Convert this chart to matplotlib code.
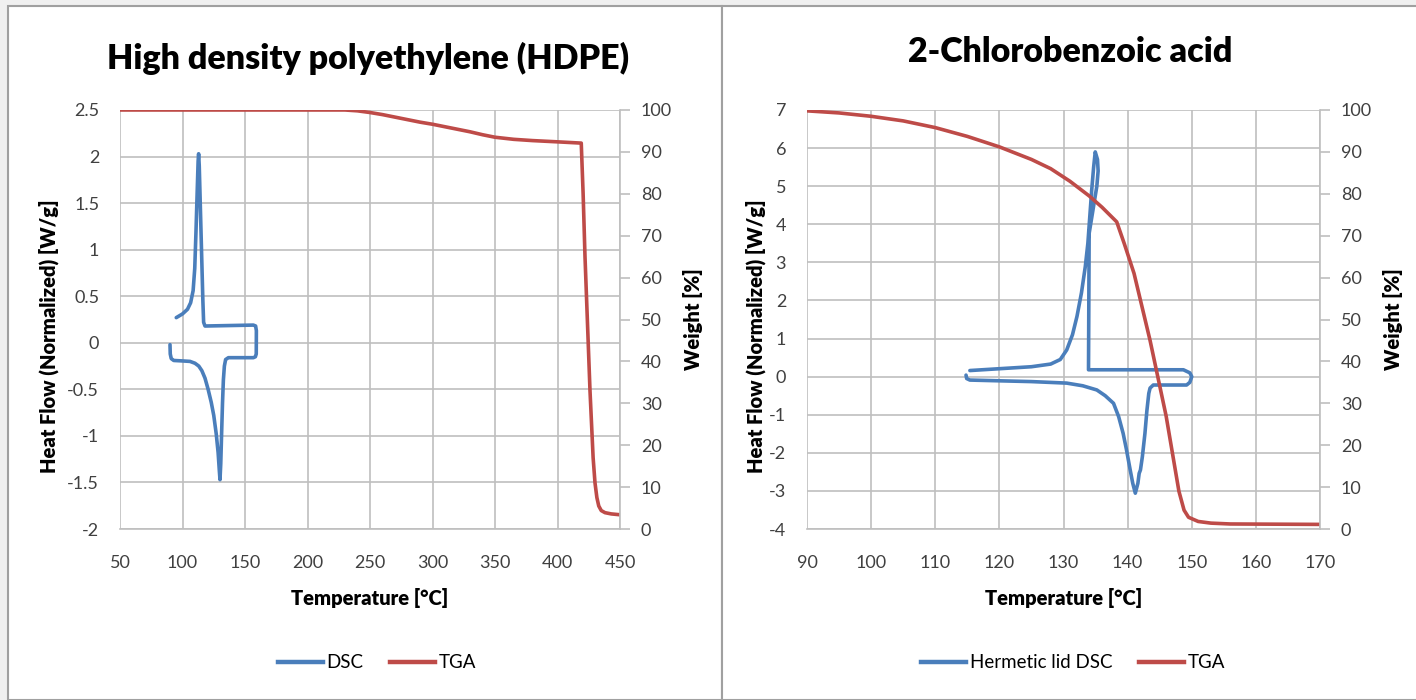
"""Side by side DSC / TGA charts for HDPE and 2-chlorobenzoic acid."""

import matplotlib.pyplot as plt
from matplotlib.lines import Line2D
from matplotlib.patches import Rectangle

plt.rcParams["font.family"] = ["Lato", "DejaVu Sans"]

W, H = 1416, 700

# HDPE, heat then cool loop
hdpe_dsc_t = [90, 90.2, 91, 93, 100, 106, 110, 113, 115.5, 118, 120.5, 123, 125, 127,
              128.5, 129.5, 130, 130.6, 131.3, 132, 132.7, 133.5, 134.5, 136.7, 156.7,
              158.3, 159, 159.1, 158.5, 156.7, 118, 116.9, 116.3, 115.6, 114.8, 114,
              113.4, 112.9, 112.5, 111.7, 110.8, 109.8, 108.5, 106.5, 104, 100, 95]
hdpe_dsc_w = [-0.02, -0.12, -0.17, -0.19, -0.195, -0.2, -0.22, -0.25, -0.3, -0.38,
              -0.5, -0.64, -0.78, -0.98, -1.18, -1.38, -1.47, -1.3, -0.97, -0.65, -0.4,
              -0.25, -0.18, -0.16, -0.16, -0.15, -0.12, 0.13, 0.18, 0.19, 0.18, 0.22,
              0.45, 0.8, 1.2, 1.6, 1.9, 2.03, 1.95, 1.6, 1.2, 0.8, 0.56, 0.43, 0.36,
              0.31, 0.27]
hdpe_tga_t = [50, 150, 230, 240, 250, 260, 270, 280, 290, 300, 310, 320, 330, 340, 350,
              365, 380, 400, 419, 420.5, 422, 426, 428.5, 430, 431.5, 433, 435, 438,
              443, 450]
hdpe_tga_w = [100, 100, 100, 99.8, 99.4, 98.9, 98.3, 97.7, 97.1, 96.6, 96.0, 95.4, 94.8,
              94.1, 93.5, 93.0, 92.7, 92.4, 92.1, 80, 65, 33, 17, 11, 7.5, 5.5, 4.4,
              3.9, 3.6, 3.4]

# 2-chlorobenzoic acid, hermetic lid
cba_dsc_t = [115.4, 125, 128, 129.5, 130.5, 131.4, 132.1, 132.8, 133.4, 133.8, 134.1,
             134.4, 134.7, 134.95, 135.3, 135.4, 135.2, 134.0, 133.9, 148.7, 149.7, 150,
             149.7, 149.2, 144, 143.5, 143.3, 143.0, 142.7, 142.3, 142, 141.8, 141.6,
             141.2, 140.8, 140.4, 139.8, 139.3, 138.6, 137.8, 136.5, 135.2, 133, 130.5,
             125, 120.1, 115.4, 114.9, 114.8]
cba_dsc_w = [0.16, 0.26, 0.33, 0.45, 0.7, 1.1, 1.58, 2.2, 2.89, 3.5, 4.2, 4.9, 5.5, 5.9,
             5.7, 5.4, 5.0, 3.76, 0.18, 0.18, 0.1, 0.0, -0.15, -0.22, -0.22, -0.3, -0.44,
             -0.9, -1.49, -2.1, -2.45, -2.54, -2.8, -3.06, -2.8, -2.45, -1.9, -1.49,
             -1.05, -0.7, -0.5, -0.35, -0.24, -0.17, -0.13, -0.11, -0.09, -0.05, 0.04]
cba_tga_t = [90, 95, 100, 105, 110, 115, 120, 125, 128, 131, 134, 136, 138.3, 139.5,
             141, 143.5, 146, 148, 148.8, 149.5, 151, 153, 156, 170]
cba_tga_w = [99.8, 99.3, 98.5, 97.4, 95.8, 93.7, 91.2, 88.2, 86.0, 83.0, 79.5, 76.8,
             73.3, 68, 61, 45, 27, 9, 4.5, 2.8, 1.8, 1.4, 1.2, 1.1]

BLUE = "#4A7EBB"
RED = "#BE4B48"
GRID = "#BFBFBF"
TICK = "#404040"
LABEL_SIZE = 14.5


def px_axes(fig, x0, x1, y0, y1):
    """Axes from pixel box (top-left origin)."""
    return fig.add_axes([x0 / W, 1 - y1 / H, (x1 - x0) / W, (y1 - y0) / H])


def style_axes(ax, ax2, xticks, yticks, wticks):
    ax.set_xlim(xticks[0], xticks[-1])
    ax.set_ylim(yticks[0], yticks[-1])
    ax.set_xticks(xticks)
    ax.set_yticks(yticks)
    ax.set_xticklabels([f"{v:g}" for v in xticks])
    ax.set_yticklabels([f"{v:g}" for v in yticks])
    ax2.set_ylim(0, 100)
    ax2.set_yticks(wticks)
    ax.grid(True, color=GRID, lw=1.2)
    ax.set_axisbelow(True)
    ax.tick_params(axis="both", length=0, labelsize=13, labelcolor=TICK)
    ax.tick_params(axis="y", pad=15)
    ax.tick_params(axis="x", pad=19)
    ax2.tick_params(axis="y", length=7, width=1.2, color=GRID, labelsize=13,
                    labelcolor=TICK, pad=8)
    for a in (ax, ax2):
        for s in a.spines.values():
            s.set_visible(False)
    ax2.spines["right"].set_visible(True)
    ax2.spines["right"].set_color(GRID)
    ax2.spines["right"].set_linewidth(1.2)
    ax.spines["bottom"].set_visible(True)
    ax.spines["bottom"].set_color(GRID)
    ax.spines["bottom"].set_linewidth(1.2)


def labels(ax, ax2, left_px, x0, width):
    ax.set_xlabel("Temperature [°C]", fontsize=LABEL_SIZE, fontweight="heavy",
                  labelpad=12)
    ax.set_ylabel("Heat Flow (Normalized) [W/g]", fontsize=LABEL_SIZE,
                  fontweight="heavy")
    ax.yaxis.set_label_coords((left_px - x0) / width, 0.46)
    ax2.set_ylabel("Weight [%]", fontsize=LABEL_SIZE, fontweight="heavy", labelpad=8)


def legend(fig, names, cx):
    fig.legend(handles=[Line2D([], [], color=BLUE, lw=3.2),
                        Line2D([], [], color=RED, lw=3.2)],
               labels=names, loc="center", bbox_to_anchor=(cx / W, 1 - 663 / H),
               ncol=2, frameon=False, fontsize=13.5, handlelength=2.4,
               handletextpad=0.2, columnspacing=1.4)


fig = plt.figure(figsize=(W / 100, H / 100), dpi=100, facecolor="#F0F0F0")

# panel backgrounds
fig.patches.append(Rectangle((8 / W, 0), (722 - 8) / W, (H - 6) / H,
                             transform=fig.transFigure, facecolor="white",
                             edgecolor="#A0A0A0", lw=1.5, zorder=-10))
fig.patches.append(Rectangle((722 / W, 0), (W - 722 + 5) / W, (H - 6) / H,
                             transform=fig.transFigure, facecolor="white",
                             edgecolor="#A0A0A0", lw=1.5, zorder=-10))

# left panel
ax = px_axes(fig, 120, 620, 110, 529)
ax2 = ax.twinx()
ax.plot(hdpe_dsc_t, hdpe_dsc_w, color=BLUE, lw=2.6, solid_joinstyle="round",
        solid_capstyle="round")
ax2.plot(hdpe_tga_t, hdpe_tga_w, color=RED, lw=2.6, solid_joinstyle="round")
style_axes(ax, ax2, list(range(50, 451, 50)),
           [-2, -1.5, -1, -0.5, 0, 0.5, 1, 1.5, 2, 2.5], list(range(0, 101, 10)))
labels(ax, ax2, 59, 120, 500)
fig.text(368 / W, 1 - 58 / H, "High density polyethylene (HDPE)", fontsize=24.5,
         fontweight="heavy", ha="center", va="center")
legend(fig, ["DSC", "TGA"], 377)

# right panel
bx = px_axes(fig, 807, 1320, 110, 529)
bx2 = bx.twinx()
bx.plot(cba_dsc_t, cba_dsc_w, color=BLUE, lw=2.6, solid_joinstyle="round",
        solid_capstyle="round")
bx2.plot(cba_tga_t, cba_tga_w, color=RED, lw=2.6, solid_joinstyle="round")
style_axes(bx, bx2, list(range(90, 171, 10)), list(range(-4, 8)),
           list(range(0, 101, 10)))
labels(bx, bx2, 766, 807, 513)
fig.text(1070 / W, 1 - 52 / H, "2-Chlorobenzoic acid", fontsize=24.5,
         fontweight="heavy", ha="center", va="center")
legend(fig, ["Hermetic lid DSC", "TGA"], 1073)

fig.savefig("out.png", dpi=100, facecolor=fig.get_facecolor())
